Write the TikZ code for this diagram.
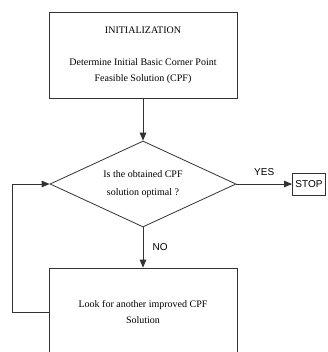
\documentclass[tikz,border=0pt]{standalone}
\usepackage{fontspec}
\setmainfont{Liberation Serif}
\setsansfont{Liberation Sans}
\usetikzlibrary{shapes,arrows,positioning,calc}

\begin{document}
\begin{tikzpicture}[
    x=1pt, y=-1pt,
    >=triangle 45,
    every node/.style={font=\fontsize{10}{16}\selectfont},
    block/.style={draw=black!80, line width=0.8pt, minimum width=188pt, align=center, inner sep=0pt},
    decision/.style={draw=black!80, line width=0.8pt, diamond, aspect=2.16, minimum width=186pt, minimum height=86pt, inner sep=0pt, align=center},
    flow/.style={->, draw=black!80, line width=0.8pt},
    lbl/.style={font=\sffamily\fontsize{10}{12}\selectfont}
]
\useasboundingbox (0,0) rectangle (328,352);
\clip (0,0) rectangle (328,352);
\node[block, minimum height=86pt] (init) at (143,55) {INITIALIZATION\\[16pt] Determine Initial Basic Corner Point\\ Feasible Solution (CPF)};
\node[decision] (check) at (143,184) {Is the obtained CPF\\[2pt] solution optimal ?};
\node[draw=black!80, line width=0.8pt, lbl, anchor=west, minimum height=22pt, inner xsep=3pt] (stop) at (292,184) {STOP};
\node[block, minimum height=88pt] (improve) at (143,312) {Look for another improved CPF\\ Solution};

\draw[flow] (init) -- (check);
\draw[flow] (check.east) -- node[lbl, above=5pt] {YES} (stop);
\draw[flow] (check) -- node[lbl, right=6pt] {NO} (improve);
\draw[flow] (improve.west) -- ++(-36,0) |- (check.west);
\end{tikzpicture}
\end{document}
